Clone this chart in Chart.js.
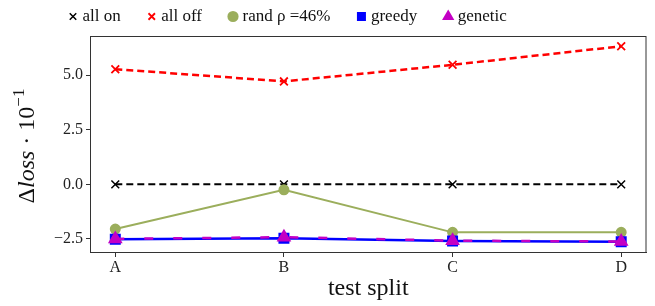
<!DOCTYPE html>
<html>
<head>
<meta charset="utf-8">
<script src="https://cdn.jsdelivr.net/npm/chart.js@4/dist/chart.umd.min.js"></script>
<style>
  body { margin: 0; background: #fff; }
  canvas { display: block; }
</style>
</head>
<body>
<canvas id="grafico" width="655" height="306"></canvas>
<script>
// dados
var splits = ['A', 'B', 'C', 'D'];
var allOn = [0, 0, 0, 0];
var allOff = [5.28, 4.72, 5.48, 6.33];
var randRho = [-2.05, -0.25, -2.2, -2.2];
var greedy = [-2.52, -2.47, -2.6, -2.63];
var genetic = [-2.5, -2.42, -2.58, -2.62];
var yTicks = [-2.5, 0, 2.5, 5.0];

var serif = "'Liberation Serif', 'Times New Roman', serif";

function pontos(valores) {
    return valores.map(function (v, i) { return { x: i, y: v }; });
}

// titulo do eixo y com partes em italico e expoente
var tituloY = {
    id: 'tituloY',
    afterDraw: function (chart) {
        var ctx = chart.ctx;
        var partes = [
            { t: '\u0394', f: '24px ' + serif, dy: 0 },
            { t: 'loss', f: 'italic 24px ' + serif, dy: 0 },
            { t: ' \u00b7 10', f: '24px ' + serif, dy: 0 },
            { t: '\u22121', f: '17px ' + serif, dy: -10 }
        ];
        ctx.save();
        var total = 0;
        partes.forEach(function (p) { ctx.font = p.f; p.w = ctx.measureText(p.t).width; total += p.w; });
        ctx.translate(34, 146);
        ctx.rotate(-Math.PI / 2);
        ctx.fillStyle = '#111';
        ctx.textBaseline = 'alphabetic';
        var x = -total / 2;
        partes.forEach(function (p) {
            ctx.font = p.f;
            ctx.fillText(p.t, x, p.dy);
            x += p.w;
        });
        ctx.restore();
    }
};

// moldura da area + posicao da legenda
var moldura = {
    id: 'moldura',
    afterLayout: function (chart) {
        chart.legend.left = 42;
        chart.legend.top = -22;
    },
    afterDatasetsDraw: function (chart) {
        var a = chart.chartArea;
        var ctx = chart.ctx;
        ctx.save();
        ctx.strokeStyle = '#333';
        ctx.lineWidth = 1;
        ctx.strokeRect(a.left + 0.5, a.top + 0.5, a.right - a.left - 1, a.bottom - a.top);
        ctx.restore();
    }
};

function plotar_grafico() {
    var data = {
        datasets: [
            {
                label: 'all on', data: pontos(allOn), order: 5,
                borderColor: '#000', backgroundColor: '#000', borderWidth: 2, borderDash: [7, 4],
                pointStyle: 'crossRot', pointRadius: 5.5, pointBorderWidth: 1.5
            },
            {
                label: 'all off', data: pontos(allOff), order: 4,
                borderColor: '#ff0000', backgroundColor: '#ff0000', borderWidth: 2.5, borderDash: [7, 4],
                pointStyle: 'crossRot', pointRadius: 5.5, pointBorderWidth: 1.8
            },
            {
                label: 'rand \u03c1 =46%', data: pontos(randRho), order: 3,
                borderColor: '#9bae5c', backgroundColor: '#9bae5c', borderWidth: 2,
                pointStyle: 'circle', pointRadius: 4.5
            },
            {
                label: 'greedy', data: pontos(greedy), order: 2,
                borderColor: '#0000ff', backgroundColor: '#0000ff', borderWidth: 2.5,
                pointStyle: 'rect', pointRadius: 6
            },
            {
                label: 'genetic', data: pontos(genetic), order: 1,
                borderColor: '#c400c4', backgroundColor: '#c400c4', borderWidth: 2.5, borderDash: [9, 20],
                pointStyle: 'triangle', pointRadius: 6
            }
        ]
    };

    var config = {
        type: 'line',
        data: data,
        options: {
            responsive: false,
            animation: false,
            layout: { padding: { left: 0, right: 4, top: 0, bottom: 0 } },
            plugins: {
                tooltip: { enabled: false },
                legend: {
                    position: 'top',
                    align: 'start',
                    maxHeight: 36,
                    labels: {
                        usePointStyle: true,
                        boxWidth: 2,
                        boxHeight: 6.5,
                        padding: 30,
                        color: '#111',
                        font: { family: serif, size: 17 },
                        sort: function (a, b) { return a.datasetIndex - b.datasetIndex; }
                    }
                }
            },
            scales: {
                x: {
                    type: 'linear',
                    min: -0.15,
                    max: 3.15,
                    afterBuildTicks: function (s) { s.ticks = splits.map(function (c, i) { return { value: i }; }); },
                    afterFit: function (s) { s.height = 54; },
                    ticks: {
                        color: '#222', padding: 1,
                        font: { family: serif, size: 16 },
                        callback: function (v) { return splits[v]; }
                    },
                    grid: { drawOnChartArea: false, drawTicks: true, tickLength: 5, color: '#333' },
                    border: { display: true, color: '#333' },
                    title: {
                        display: true, text: 'test split', color: '#111',
                        font: { family: serif, size: 24 },
                        padding: { top: 0, bottom: 3 }
                    }
                },
                y: {
                    min: -3.1,
                    max: 6.8,
                    afterBuildTicks: function (s) { s.ticks = yTicks.map(function (v) { return { value: v }; }); },
                    afterFit: function (s) { s.width = 90; },
                    ticks: {
                        color: '#222', padding: 3,
                        font: { family: serif, size: 16 },
                        callback: function (v) { return v.toFixed(1).replace('-', '\u2212'); }
                    },
                    grid: { drawOnChartArea: false, drawTicks: true, tickLength: 4, color: '#333' },
                    border: { display: true, color: '#333' }
                }
            }
        },
        plugins: [tituloY, moldura]
    };

    var ctx = document.getElementById('grafico').getContext('2d');
    var grafico = new Chart(ctx, config);
}

window.addEventListener('load', plotar_grafico);
</script>
</body>
</html>
